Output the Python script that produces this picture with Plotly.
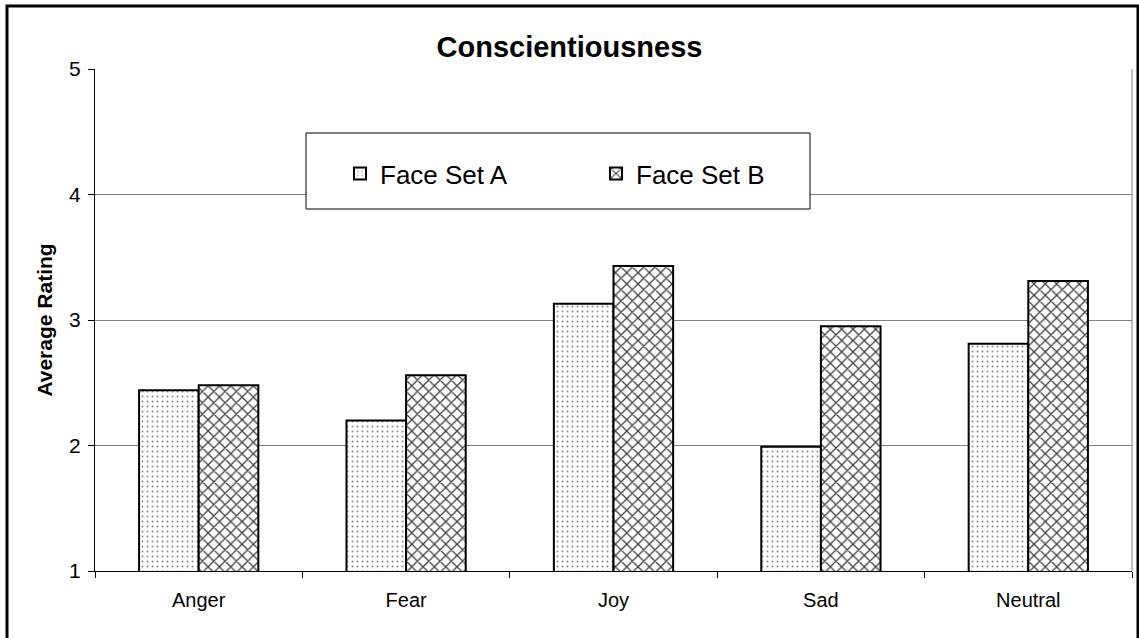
import plotly.graph_objects as go

categories = ["Anger", "Fear", "Joy", "Sad", "Neutral"]
face_set_a = [2.44, 2.20, 3.13, 1.99, 2.81]
face_set_b = [2.48, 2.56, 3.43, 2.95, 3.31]
series_names = ["Face Set A", "Face Set B"]
y_ticks = [1, 2, 3, 4, 5]
title_text = "Conscientiousness"
y_title = "Average Rating"

W, H = 1139, 638
L, R, T, B = 95, 1132, 69, 571  # plot area pixel bounds
FONT = "Arial, 'Liberation Sans', sans-serif"

def px_x(p):
    return (p - L) / (R - L)

def px_y(p):
    return (B - p) / (B - T)

fig = go.Figure()
fig.add_trace(go.Bar(
    name=series_names[0], x=categories, y=face_set_a,
    marker=dict(color="white", line=dict(color="black", width=2),
                pattern=dict(shape=".", fgcolor="#8a8a8a", bgcolor="white",
                             size=5, solidity=0.12, fillmode="replace")),
))
fig.add_trace(go.Bar(
    name=series_names[1], x=categories, y=face_set_b,
    marker=dict(color="white", line=dict(color="black", width=2),
                pattern=dict(shape="x", fgcolor="#404040", bgcolor="white",
                             size=8, solidity=0.3, fillmode="replace")),
))

fig.update_layout(
    width=W, height=H,
    margin=dict(l=L, r=W - R, t=T, b=H - B, autoexpand=False),
    paper_bgcolor="white", plot_bgcolor="white",
    barmode="group", bargap=0.425, bargroupgap=0,
    font=dict(family=FONT, color="black"),
    title=dict(text="<b>" + title_text + "</b>", x=0.5, xref="container",
               y=1 - 47 / H, yref="container", yanchor="middle", xanchor="center",
               font=dict(size=29, family=FONT, color="black")),
    showlegend=True,
    legend=dict(orientation="h", x=px_x(340), y=px_y(150), xanchor="left", yanchor="top",
                bgcolor="rgba(0,0,0,0)", borderwidth=0,
                font=dict(size=26, family=FONT, color="black"),
                entrywidth=211, entrywidthmode="pixels", itemclick=False),
    xaxis=dict(type="category", showline=True, linecolor="black", linewidth=1,
               ticks="outside", tickson="boundaries", ticklen=6, tickcolor="black",
               showgrid=False, tickfont=dict(size=20, family=FONT, color="black"),
               ticklabelstandoff=11, fixedrange=True),
    yaxis=dict(range=[1, 5], tickvals=y_ticks, showline=True, linecolor="black",
               linewidth=1, ticks="outside", ticklen=6, tickcolor="black",
               showgrid=True, gridcolor="#808080", gridwidth=1,
               zeroline=False, tickfont=dict(size=21, family=FONT, color="black"),
               ticklabelstandoff=3,
               title=dict(text="<b>" + y_title + "</b>", standoff=10,
                          font=dict(size=21, family=FONT, color="black")),
               automargin=False, fixedrange=True),
    shapes=[
        # plot area border (right side)
        dict(type="line", xref="paper", yref="paper", x0=1, x1=1, y0=0, y1=1,
             line=dict(color="#808080", width=1), layer="below"),
        # legend box
        dict(type="rect", xref="paper", yref="paper",
             x0=px_x(306), x1=px_x(810), y0=px_y(209), y1=px_y(133),
             fillcolor="white", line=dict(color="black", width=1), layer="above"),
        # outer chart border
        dict(type="rect", xref="paper", yref="paper",
             x0=px_x(7), x1=px_x(1138), y0=px_y(640), y1=px_y(6),
             fillcolor="rgba(0,0,0,0)", line=dict(color="black", width=3), layer="above"),
    ],
)

fig.write_html("out.html")
